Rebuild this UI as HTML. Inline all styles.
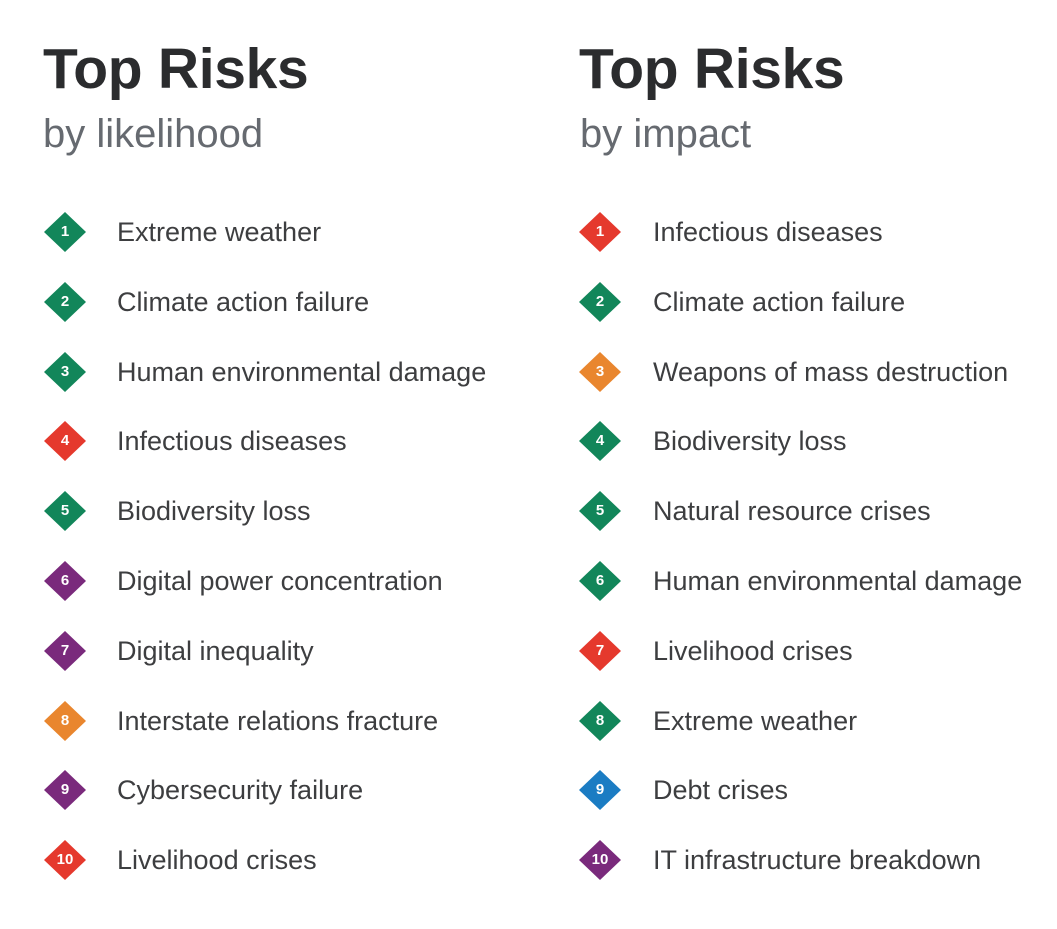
<!DOCTYPE html>
<html><head><meta charset="utf-8"><style>
html,body{margin:0;padding:0;background:#fff;}
body{width:1057px;height:929px;position:relative;overflow:hidden;font-family:"Liberation Sans",Arial,sans-serif;}
.t{position:absolute;font-weight:bold;font-size:57px;color:#2b2c2e;line-height:1;letter-spacing:-0.3px}
.s{position:absolute;font-size:40px;color:#666a70;line-height:1}
.d{position:absolute;width:42px;height:40px;}
.d svg{position:absolute;left:0;top:0}
.d span{position:absolute;left:0;top:0;width:42px;line-height:40px;text-align:center;color:#fff;font-weight:bold;font-size:15px}
.l{position:absolute;font-size:27px;color:#3d3e40;line-height:1}
</style></head><body>
<div class="t" style="left:43px;top:41px">Top Risks</div>
<div class="t" style="left:579px;top:41px">Top Risks</div>
<div class="s" style="left:43px;top:114px">by likelihood</div>
<div class="s" style="left:580px;top:114px">by impact</div>
<div id="c"></div>
<script>
var G="#12865a",R="#e5392d",O="#e9862e",P="#7a2a7c",B="#1b7cc3";
var L=[["Extreme weather",G],["Climate action failure",G],["Human environmental damage",G],["Infectious diseases",R],["Biodiversity loss",G],["Digital power concentration",P],["Digital inequality",P],["Interstate relations fracture",O],["Cybersecurity failure",P],["Livelihood crises",R]];
var I=[["Infectious diseases",R],["Climate action failure",G],["Weapons of mass destruction",O],["Biodiversity loss",G],["Natural resource crises",G],["Human environmental damage",G],["Livelihood crises",R],["Extreme weather",G],["Debt crises",B],["IT infrastructure breakdown",P]];
var h="";
function col(a,dx,tx){for(var i=0;i<10;i++){var cy=232+i*69.8;
h+='<div class="d" style="left:'+(dx-21)+'px;top:'+(cy-20)+'px"><svg width="42" height="40"><polygon points="21,0 42,20 21,40 0,20" fill="'+a[i][1]+'"/></svg><span>'+(i+1)+'</span></div>';
h+='<div class="l" style="left:'+tx+'px;top:'+(cy-13)+'px">'+a[i][0]+'</div>';}}
col(L,65,117);col(I,600,653);
document.getElementById("c").innerHTML=h;
</script>
</body></html>
